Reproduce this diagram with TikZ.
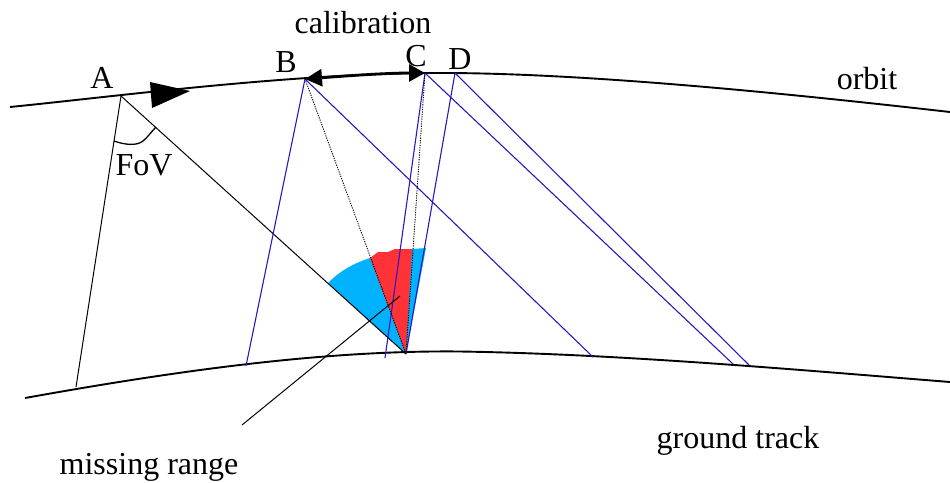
\documentclass[tikz,border=0pt]{standalone}
\usepackage{fontspec}
\setmainfont{Liberation Serif}
\usetikzlibrary{arrows.meta}
\definecolor{ray}{RGB}{50,20,190}
\definecolor{wedgeblue}{RGB}{0,178,255}
\definecolor{wedgered}{RGB}{255,50,56}
\tikzset{
  track/.style={line width=1.9pt,black},
  rayline/.style={line width=1.1pt,ray},
  fovline/.style={line width=1.0pt,black},
  dotline/.style={line width=0.9pt,black,dash pattern=on 1.2pt off 1.2pt},
  lab/.style={inner sep=0pt,font=\fontsize{32}{32}\selectfont,text=black}
}
\begin{document}
\begin{tikzpicture}[x=1pt,y=-1pt]
\useasboundingbox (0,0) rectangle (950,482);
\coordinate (A) at (121,96);
\coordinate (B) at (305,79);
\coordinate (C) at (425,73);
\coordinate (D) at (455,73);
\coordinate (P) at (406,354);
\coordinate (G0) at (76,387);
\coordinate (G1) at (246,366);
\coordinate (G2) at (593,357);
\coordinate (G3) at (385,358);
\coordinate (G4) at (733,364);
\coordinate (G5) at (749,365);
\coordinate (M0) at (242,425);
\coordinate (M1) at (400,296);
\coordinate (F0) at (114,141);
\coordinate (F1) at (156,127);
% wedges
\fill[wedgeblue] (P) -- (328,283) .. controls (340,271) and (352,264) .. (370,258) -- (412,249) -- (426,248) -- cycle;
\fill[wedgered] (P) -- (370,258) -- (378,252) -- (388,252) -- (395,249) -- (412,249) -- cycle;
% orbit and ground track
\draw[track] (10,107) .. controls (120,96) and (300,72) .. (450,73) .. controls (600,74) and (800,95) .. (950,112);
\draw[track] (25,398) .. controls (170,372) and (320,350) .. (460,351.5) .. controls (620,354) and (800,370) .. (950,382);
% rays
\draw[fovline] (A) -- (G0);
\draw[fovline] (A) -- (P);
\draw[rayline] (B) -- (G1);
\draw[rayline] (B) -- (G2);
\draw[rayline] (C) -- (G3);
\draw[rayline] (C) -- (G4);
\draw[rayline] (D) -- (P);
\draw[rayline] (D) -- (G5);
\draw[dotline] (B) -- (P);
\draw[dotline] (C) -- (P);
\draw[fovline] (M0) -- (M1);
\draw[line width=1.3pt] (F0) .. controls (125,145) and (137,146) .. (143,141) .. controls (148,137) and (151,132) .. (F1);
% arrows
\fill[black] (150,82) -- (190,91) -- (152,108) -- cycle;
\draw[line width=2.8pt,{Triangle[length=17pt,width=17pt]}-{Triangle[length=16pt,width=17pt]}] (B) .. controls (345,76) and (385,73) .. (C);
% labels
\node[lab] (la) at (102,78) {A};
\node[lab] (lb) at (286,62) {B};
\node[lab] (lc) at (416,56) {C};
\node[lab] (ld) at (460,59) {D};
\node[lab] (lcal) at (363,23) {calibration};
\node[lab] (lorb) at (867,79) {orbit};
\node[lab] (lfov) at (144,165) {FoV};
\node[lab] (lgt) at (738,441) {ground track};
\node[lab] (lmr) at (149,467) {missing range};
\end{tikzpicture}
\end{document}
